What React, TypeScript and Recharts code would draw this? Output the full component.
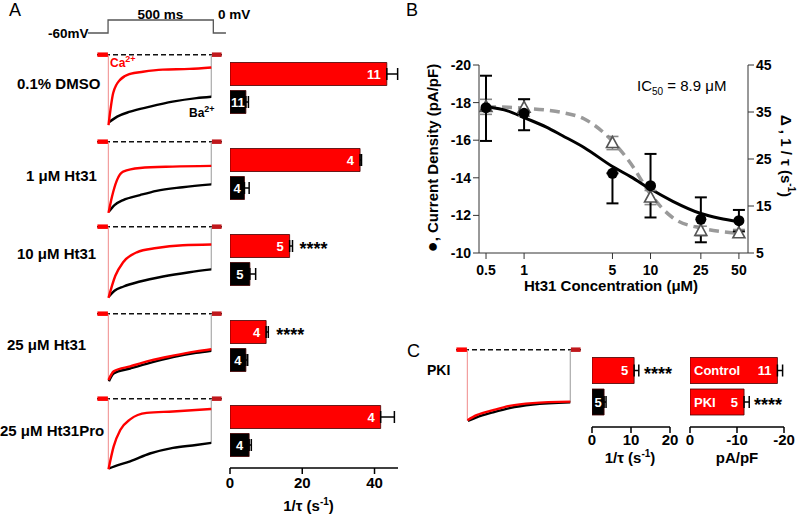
import React from 'react';
import {
  LineChart, Line, BarChart, Bar, Cell, ErrorBar, LabelList, XAxis, YAxis,
  ReferenceLine, ComposedChart, Scatter,
} from 'recharts';

const FONT = 'Arial, "Liberation Sans", Helvetica, sans-serif';
const RED = '#ff0000';

// ---- A: voltage protocol ----
const protocolTime = [-96, 0, 0, 500, 500, 560];
const protocolVoltage = [-60, -60, 0, 0, -60, -60];

// ---- A: example traces (time in ms, current normalised to peak) ----
const conditions = ['0.1% DMSO', '1 μM Ht31', '10 μM Ht31', '25 μM Ht31', '25 μM Ht31Pro'];
const caTraceTime = [
  [1, 24, 58, 106, 168, 264, 394, 500],
  [1, 18, 42, 72, 154, 312, 500],
  [1, 34, 72, 138, 234, 362, 500],
  [1, 26, 106, 202, 314, 426, 500],
  [1, 26, 58, 106, 186, 314, 500],
];
const caTraceCurrent = [
  [-0.99, -0.535, -0.35, -0.27, -0.24, -0.21, -0.2, -0.18],
  [-1.0, -0.77, -0.54, -0.42, -0.37, -0.35, -0.34],
  [-1.0, -0.69, -0.5, -0.36, -0.3, -0.26, -0.25],
  [-0.93, -0.81, -0.74, -0.66, -0.59, -0.53, -0.5],
  [-0.99, -0.67, -0.44, -0.29, -0.2, -0.18, -0.145],
];
const baTraceTime = [
  [3, 43, 106, 202, 312, 428, 500],
  [3, 30, 72, 154, 234, 361, 500],
  [3, 30, 74, 154, 266, 394, 500],
  [3, 26, 106, 202, 314, 426, 500],
  [3, 30, 106, 202, 314, 426, 500],
];
const baTraceCurrent = [
  [-0.95, -0.87, -0.8, -0.73, -0.66, -0.61, -0.59],
  [-0.98, -0.89, -0.82, -0.75, -0.69, -0.64, -0.6],
  [-0.98, -0.9, -0.84, -0.77, -0.7, -0.64, -0.6],
  [-0.95, -0.84, -0.77, -0.69, -0.61, -0.55, -0.52],
  [-0.98, -0.95, -0.88, -0.77, -0.69, -0.65, -0.62],
];

// ---- A: inactivation rate 1/tau (s^-1) ----
const caRate = [43.4, 36.0, 16.5, 10.0, 41.7];
const caRateSem = [3.0, 0.4, 0.8, 0.6, 3.8];
const baRate = [4.4, 4.0, 5.5, 4.4, 5.3];
const baRateSem = [0.7, 1.3, 1.6, 0.5, 0.6];
const cellCounts = [11, 4, 5, 4, 4];
const caSignificance = ['', '', '****', '****', ''];

// ---- B: dose response ----
const concentrations = [0.5, 1, 5, 10, 25, 50];
const densityMean = [-17.73, -17.43, -14.24, -13.58, -11.79, -11.72];
const densitySemUp = [1.7, 0.75, 0, 1.69, 1.17, 0.57];
const densitySemDown = [1.77, 0.9, 1.6, 1.69, 1.22, 0.57];
const rateMean = [36.1, 35.9, 28.4, 16.8, 9.7, 9.2];
const rateSem = [1.6, 1.8, 1.4, 1.5, 1.0, 0.8];
const fitConc = [0.5, 0.75, 1, 1.5, 2, 3, 5, 7, 10, 15, 25, 35, 50];
const fitDensity = [-17.78, -17.55, -17.2, -16.7, -16.25, -15.6, -14.6, -14.05, -13.4, -12.75, -12.1, -11.85, -11.67];
const fitRate = [36.1, 36.0, 35.8, 35.4, 34.9, 33.5, 28.8, 24.0, 17.5, 12.5, 10.3, 9.6, 9.2];

// ---- C: PKI ----
const pkiCaTime = [1, 45, 125, 205, 317, 500];
const pkiCaCurrent = [-0.99, -0.92, -0.85, -0.79, -0.75, -0.73];
const pkiBaTime = [3, 45, 125, 205, 317, 500];
const pkiBaCurrent = [-1.0, -0.95, -0.88, -0.82, -0.77, -0.74];
const pkiRate = [10.8, 3.1];
const pkiRateSem = [1.2, 0.5];
const pkiRateN = [5, 5];
const pkiRateSig = ['****', ''];
const densityGroups = ['Control', 'PKI'];
const pkiDensity = [-18.6, -11.5];
const pkiDensitySem = [1.1, 1.1];
const pkiDensityN = [11, 5];
const pkiDensitySig = ['', '****'];

// layout helpers
const traceZeroY = [55, 142, 227, 314, 399];
const rowCenterY = [73.5, 159, 245, 331, 416];
const PX_PER_UNIT = 71;
const T_DOMAIN: [number, number] = [-55, 552];
const I_DOMAIN: [number, number] = [-1.1, 0.15];

const noMargin = { top: 0, right: 0, bottom: 0, left: 0 };

function Trace({ left, zeroY, caT, caI, baT, baI }: any) {
  const ca = caT.map((t: number, i: number) => ({ t, v: caI[i] }));
  const ba = baT.map((t: number, i: number) => ({ t, v: baI[i] }));
  const onset = [{ t: 0, v: 0 }, { t: 0, v: Math.min(caI[0], baI[0]) }];
  const offset = [{ t: 500, v: baI[baI.length - 1] }, { t: 500, v: 0 }];
  const pre = [{ t: -53, v: 0 }, { t: -2, v: 0 }];
  const post = [{ t: 503, v: 0 }, { t: 550, v: 0 }];
  const common = { dataKey: 'v', dot: false, isAnimationActive: false, activeDot: false } as any;
  return (
    <div style={{ position: 'absolute', left, top: zeroY - I_DOMAIN[1] * PX_PER_UNIT }}>
      <LineChart width={125} height={89} margin={noMargin}>
        <XAxis type="number" dataKey="t" domain={T_DOMAIN} hide allowDataOverflow />
        <YAxis type="number" dataKey="v" domain={I_DOMAIN} hide allowDataOverflow />
        <ReferenceLine y={0} stroke="#111" strokeDasharray="5 3" strokeWidth={1.6} />
        <Line {...common} data={onset} type="linear" stroke="#f08a8a" strokeWidth={1} />
        <Line {...common} data={offset} type="linear" stroke="#aaa" strokeWidth={1.2} />
        <Line {...common} data={ba} type="monotone" stroke="#000" strokeWidth={2.4} />
        <Line {...common} data={ca} type="monotone" stroke={RED} strokeWidth={2.4} />
        <Line {...common} data={pre} type="linear" stroke={RED} strokeWidth={4.5} />
        <Line {...common} data={post} type="linear" stroke="#c0181c" strokeWidth={4.5} />
      </LineChart>
    </div>
  );
}

const barEnds = (props: any) => {
  const vb = props.viewBox && props.viewBox.width !== undefined ? props.viewBox : props;
  const { x, y, width, height } = vb;
  return { l: Math.min(x, x + width), r: Math.max(x, x + width), cy: y + height / 2 };
};

const countLabel = (props: any) => {
  const { l, r, cy } = barEnds(props);
  const centred = r - l < 30;
  return (
    <text x={centred ? (l + r) / 2 : r - 6} y={cy} dy="0.36em" textAnchor={centred ? 'middle' : 'end'}
      fill="#fff" fontSize={13} fontWeight="bold" fontFamily={FONT}>{props.value}</text>
  );
};

const groupLabel = (props: any) => {
  const { l, cy } = barEnds(props);
  return (
    <text x={l + 4} y={cy} dy="0.36em" fill="#fff" fontSize={13} fontWeight="bold" fontFamily={FONT}>{props.value}</text>
  );
};

const starLabel = (props: any) => {
  if (!props.value) return null;
  const { r, cy } = barEnds(props);
  return (
    <text x={r + 10} y={cy + 9} fill="#000" fontSize={18} fontWeight="bold" fontFamily={FONT}>{props.value}</text>
  );
};

const axisTick = { fontSize: 15, fontWeight: 'bold', fill: '#000', fontFamily: FONT };
const blackLine = { stroke: '#000', strokeWidth: 1.5 };

function RateRow({ row }: { row: number }) {
  const data = [
    { k: 'Ca', v: caRate[row], e: [0, caRateSem[row]], n: cellCounts[row], sig: caSignificance[row], fill: RED },
    { k: 'Ba', v: baRate[row], e: [0, baRateSem[row]], n: cellCounts[row], sig: '', fill: '#000' },
  ];
  return (
    <div style={{ position: 'absolute', left: 218, top: rowCenterY[row] - 23.5 }}>
      <BarChart layout="vertical" width={242} height={75} data={data} barSize={23}
        margin={{ top: 0, right: 62, bottom: 0, left: 12 }}>
        <XAxis type="number" domain={[0, 46.5]} hide allowDataOverflow />
        <YAxis type="category" dataKey="k" width={0} tick={false} tickLine={false}
          axisLine={blackLine} padding={{ top: 9.5, bottom: 9.5 }} />
        <Bar dataKey="v" isAnimationActive={false} stroke="#400" strokeWidth={0.8}>
          {data.map((d, i) => <Cell key={i} fill={d.fill} />)}
          <ErrorBar dataKey="e" direction="x" width={6} stroke="#000" strokeWidth={1.5} />
          <LabelList dataKey="n" content={countLabel} />
          <LabelList dataKey="sig" content={starLabel} />
        </Bar>
      </BarChart>
    </div>
  );
}

const Circle = (p: any) => <circle cx={p.cx} cy={p.cy} r={5.5} fill="#000" />;
const Triangle = (p: any) => (
  <polygon points={`${p.cx},${p.cy - 6.5} ${p.cx + 6},${p.cy + 4.5} ${p.cx - 6},${p.cy + 4.5}`}
    fill="#fff" stroke="#555" strokeWidth={1.6} />
);

export default function App() {
  const protocol = protocolTime.map((t, i) => ({ t, v: protocolVoltage[i] }));
  const circles = concentrations.map((c, i) => ({ c, y: densityMean[i], e: [densitySemUp[i], densitySemDown[i]] }));
  const triangles = concentrations.map((c, i) => ({ c, y: rateMean[i], e: rateSem[i] }));
  const fitD = fitConc.map((c, i) => ({ c, y: fitDensity[i] }));
  const fitR = fitConc.map((c, i) => ({ c, y: fitRate[i] }));
  const rateC = pkiRate.map((v, i) => ({
    k: i === 0 ? 'Ca' : 'Ba', v, e: [0, pkiRateSem[i]], n: pkiRateN[i], sig: pkiRateSig[i], fill: i === 0 ? RED : '#000',
  }));
  const densC = pkiDensity.map((v, i) => ({
    k: densityGroups[i], v, e: [pkiDensitySem[i], 0], n: pkiDensityN[i], sig: pkiDensitySig[i],
  }));
  const txt = { fontFamily: FONT, fontWeight: 'bold' as const, fill: '#000' };

  return (
    <div style={{ position: 'absolute', left: 0, top: 0, width: 800, height: 517, background: '#fff', fontFamily: FONT }}>
      {/* voltage protocol */}
      <div style={{ position: 'absolute', left: 87.4, top: 18 }}>
        <LineChart width={140} height={17} data={protocol} margin={noMargin}>
          <XAxis type="number" dataKey="t" domain={[-100, 565]} hide allowDataOverflow />
          <YAxis type="number" domain={[-69.2, 9.2]} hide allowDataOverflow />
          <Line dataKey="v" type="linear" stroke="#555" strokeWidth={1.3} dot={false} isAnimationActive={false} />
        </LineChart>
      </div>

      {conditions.map((_, r) => (
        <Trace key={r} left={97.4} zeroY={traceZeroY[r]} caT={caTraceTime[r]} caI={caTraceCurrent[r]}
          baT={baTraceTime[r]} baI={baTraceCurrent[r]} />
      ))}

      {conditions.map((_, r) => <RateRow key={r} row={r} />)}

      {/* shared rate axis + DMSO reference */}
      <div style={{ position: 'absolute', left: 218, top: 87 }}>
        <ComposedChart width={242} height={426} data={[{ v: 0 }, { v: 46 }]}
          margin={{ top: 0, right: 62, bottom: 0, left: 12 }}>
          <XAxis type="number" dataKey="v" domain={[0, 46.5]} ticks={[0, 20, 40]} interval={0} height={45}
            tick={axisTick} tickMargin={3} axisLine={blackLine} tickLine={blackLine} allowDataOverflow />
          <YAxis hide />
          <ReferenceLine x={caRate[0] - 0.4} stroke="#000" strokeDasharray="7 4" strokeWidth={2} />
        </ComposedChart>
      </div>

      {/* B: dose response */}
      <div style={{ position: 'absolute', left: 400, top: 40 }}>
        <ComposedChart width={400} height={260} margin={{ top: 25, right: 20, bottom: 7, left: 34 }}>
          <XAxis type="number" dataKey="c" scale="log" domain={[0.44, 59]} ticks={concentrations} interval={0}
            allowDataOverflow height={40} tickMargin={6} tick={{ ...axisTick, fontSize: 14 }}
            axisLine={{ stroke: '#333' }} tickLine={{ stroke: '#333' }} />
          <YAxis yAxisId="left" type="number" dataKey="y" domain={[-20, -10]} reversed interval={0}
            ticks={[-20, -18, -16, -14, -12, -10]} width={45} allowDataOverflow
            tick={{ ...axisTick, fontSize: 14 }} axisLine={{ stroke: '#333' }} tickLine={{ stroke: '#333' }} />
          <YAxis yAxisId="right" orientation="right" type="number" dataKey="y" domain={[5, 45]} interval={0}
            ticks={[5, 15, 25, 35, 45]} width={32} allowDataOverflow
            tick={{ ...axisTick, fontSize: 14 }} axisLine={{ stroke: '#333' }} tickLine={{ stroke: '#333' }} />
          <Line yAxisId="right" data={fitR} dataKey="y" type="monotone" stroke="#9a9a9a" strokeWidth={3.5}
            strokeDasharray="10 6" dot={false} activeDot={false} isAnimationActive={false} />
          <Line yAxisId="left" data={fitD} dataKey="y" type="monotone" stroke="#000" strokeWidth={3}
            dot={false} activeDot={false} isAnimationActive={false} />
          <Scatter yAxisId="right" data={triangles} shape={Triangle} isAnimationActive={false}>
            <ErrorBar dataKey="e" direction="y" width={6} stroke="#888" strokeWidth={1.6} />
          </Scatter>
          <Scatter yAxisId="left" data={circles} shape={Circle} isAnimationActive={false}>
            <ErrorBar dataKey="e" direction="y" width={6} stroke="#000" strokeWidth={2} />
          </Scatter>
        </ComposedChart>
      </div>

      {/* C: PKI trace */}
      <Trace left={455.8} zeroY={350} caT={pkiCaTime} caI={pkiCaCurrent} baT={pkiBaTime} baI={pkiBaCurrent} />

      <div style={{ position: 'absolute', left: 580, top: 345 }}>
        <BarChart layout="vertical" width={135} height={108} data={rateC} barSize={26}
          margin={{ top: 0, right: 45, bottom: 0, left: 12 }}>
          <XAxis type="number" domain={[0, 20]} ticks={[0, 10, 20]} interval={0} height={26} tickMargin={1.5}
            tick={axisTick} axisLine={blackLine} tickLine={blackLine} allowDataOverflow />
          <YAxis type="category" dataKey="k" width={0} tick={false} tickLine={false}
            axisLine={blackLine} padding={{ top: 9.5, bottom: 9.5 }} />
          <Bar dataKey="v" isAnimationActive={false} stroke="#400" strokeWidth={0.8}>
            {rateC.map((d, i) => <Cell key={i} fill={d.fill} />)}
            <ErrorBar dataKey="e" direction="x" width={6} stroke="#000" strokeWidth={1.5} />
            <LabelList dataKey="n" content={countLabel} />
            <LabelList dataKey="sig" content={starLabel} />
          </Bar>
        </BarChart>
      </div>

      <div style={{ position: 'absolute', left: 678, top: 345 }}>
        <BarChart layout="vertical" width={122} height={108} data={densC} barSize={26}
          margin={{ top: 0, right: 16, bottom: 0, left: 12 }}>
          <XAxis type="number" domain={[-20, 0]} reversed ticks={[0, -10, -20]} interval={0} height={26} tickMargin={1.5}
            tick={axisTick} axisLine={blackLine} tickLine={blackLine} allowDataOverflow />
          <YAxis type="category" dataKey="k" width={0} tick={false} tickLine={false}
            axisLine={blackLine} padding={{ top: 9.5, bottom: 9.5 }} />
          <Bar dataKey="v" isAnimationActive={false} fill={RED} stroke="#400" strokeWidth={0.8}>
            <ErrorBar dataKey="e" direction="x" width={6} stroke="#000" strokeWidth={1.5} />
            <LabelList dataKey="k" content={groupLabel} />
            <LabelList dataKey="n" content={countLabel} />
            <LabelList dataKey="sig" content={starLabel} />
          </Bar>
        </BarChart>
      </div>

      {/* text layer */}
      <svg width={800} height={517} style={{ position: 'absolute', left: 0, top: 0, pointerEvents: 'none' }}>
        <text x={9} y={16} fontSize={18} fontFamily={FONT} fill="#000">A</text>
        <text x={406} y={16} fontSize={18} fontFamily={FONT} fill="#000">B</text>
        <text x={407} y={357} fontSize={18} fontFamily={FONT} fill="#000">C</text>

        <text x={160.5} y={18.5} fontSize={13.5} textAnchor="middle" {...txt}>500 ms</text>
        <text x={218} y={18.5} fontSize={13.5} {...txt}>0 mV</text>
        <text x={48} y={37.5} fontSize={13.5} {...txt}>-60mV</text>

        {conditions.map((c, i) => (
          <text key={c} x={[17, 26, 17, 7, 0][i]} y={[83, 175, 253, 344, 430][i] + 5.5} fontSize={15} {...txt}>{c}</text>
        ))}
        <text x={110} y={67} fontSize={12} {...txt} fill={RED}>Ca<tspan dy={-5} fontSize={9}>2+</tspan></text>
        <text x={189} y={117} fontSize={12} {...txt}>Ba<tspan dy={-5} fontSize={9}>2+</tspan></text>

        <text x={308.5} y={511} fontSize={15} textAnchor="middle" {...txt}>
          1/τ  (s<tspan dy={-6} fontSize={10}>-1</tspan><tspan dy={6}>)</tspan>
        </text>

        <text transform="translate(432,158) rotate(-90)" textAnchor="middle" dominantBaseline="central" fontSize={15} {...txt}>
          <tspan fontSize={18}>●</tspan>, Current Density (pA/pF)
        </text>
        <text transform="translate(786,156) rotate(90)" textAnchor="middle" dominantBaseline="central" fontSize={15} {...txt}>
          Δ , 1 / τ (s<tspan dy={-6} fontSize={10}>-1</tspan><tspan dy={6}>)</tspan>
        </text>
        <text x={611} y={291} fontSize={15} textAnchor="middle" {...txt}>Ht31 Concentration (μM)</text>
        <text x={637} y={91} fontSize={15} fontFamily={FONT} fill="#000">
          IC<tspan dy={4} fontSize={10}>50</tspan><tspan dy={-4}> = 8.9 μM</tspan>
        </text>

        <text x={427} y={375} fontSize={14} {...txt}>PKI</text>
        <text x={630} y={463} fontSize={15} textAnchor="middle" {...txt}>
          1/τ (s<tspan dy={-6} fontSize={10}>-1</tspan><tspan dy={6}>)</tspan>
        </text>
        <text x={737} y={463} fontSize={15} textAnchor="middle" {...txt}>pA/pF</text>
      </svg>
    </div>
  );
}
